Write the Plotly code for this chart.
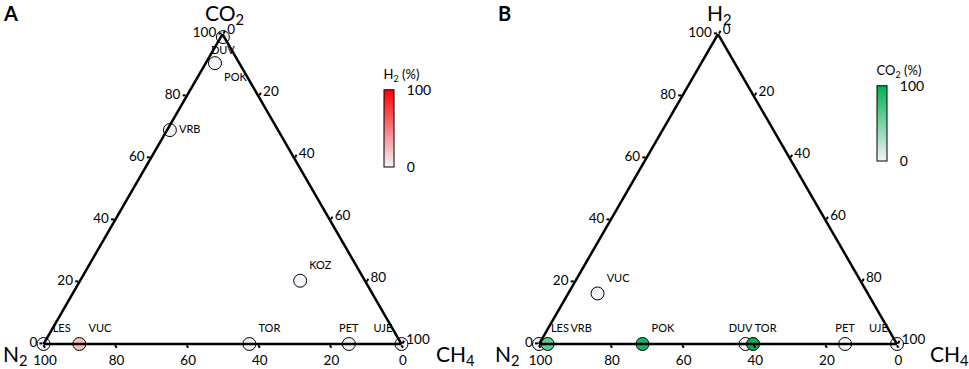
import plotly.graph_objects as go

# ---------------- Panel A: CO2 (top) - N2 (left) - CH4 (right), colour = H2 ----------------
sites_a = ["DUV", "POK", "VRB", "KOZ", "LES", "VUC", "TOR", "PET", "UJE"]
co2_a = [99.0, 90.6, 69.0, 20.4, 0.0, 0.0, 0.0, 0.0, 0.0]
n2_a = [0.4, 6.8, 30.2, 18.1, 100.0, 90.0, 42.5, 14.7, 0.0]
ch4_a = [0.6, 2.6, 0.8, 61.5, 0.0, 10.0, 57.5, 85.3, 100.0]
h2_a = [0, 0, 0, 0, 0, 22, 0, 0, 0]
labels_a = ["DUV", "POK", "VRB", "KOZ", "LES", "VUC", "TOR", "PET", "UJE"]
pos_a = ["bottom center", "bottom right", "middle right", "top right", "top right",
         "top right", "top right", "top center", "top left"]

# ---------------- Panel B: H2 (top) - N2 (left) - CH4 (right), colour = CO2 ----------------
sites_b = ["VUC", "LES", "VRB", "POK", "TOR", "DUV", "PET", "UJE"]
h2_b = [16.3, 0.0, 0.0, 0.0, 0.0, 0.0, 0.0, 0.0]
n2_b = [75.5, 100.0, 97.6, 71.1, 42.3, 40.2, 14.5, 0.0]
ch4_b = [8.2, 0.0, 2.4, 28.9, 57.7, 59.8, 85.5, 100.0]
co2_b = [0, 0, 62, 90.6, 0, 99, 0, 0]
NB = "\u00a0"
labels_b = ["VUC", NB + "LES", NB * 5 + "VRB", "POK", "TOR", "DUV" + NB * 9, "PET", "UJE"]
pos_b = ["top right", "top right", "top right", "top right", "top right",
         "top center", "top center", "top left"]

tick_vals = [0, 20, 40, 60, 80, 100]

FONT = "Lato"
W, H = 969, 369

fig = go.Figure()


def cbar(x, ytop, length, title):
    return dict(
        x=x / W, xanchor="left", xpad=0,
        y=1 - ytop / H, yanchor="top", ypad=0,
        len=length, lenmode="pixels", thickness=10,
        outlinewidth=1, outlinecolor="black",
        tickvals=[0, 100], ticks="outside", ticklen=10, tickcolor="rgba(0,0,0,0)",
        tickfont=dict(family=FONT, size=14, color="black"),
        title=dict(text=title, side="top",
                   font=dict(family=FONT, size=13, color="black")),
    )


fig.add_trace(go.Scatterternary(
    a=co2_a, b=n2_a, c=ch4_a, text=labels_a, mode="markers+text",
    textposition=pos_a, textfont=dict(family=FONT, size=11, color="black"),
    subplot="ternary", name="A",
    marker=dict(size=13, color=h2_a, cmin=0, cmax=100,
                colorscale=[[0, "#f4f4fa"], [1, "#ff0000"]],
                line=dict(color="black", width=1),
                colorbar=cbar(384, 67, 100, "H<sub>2</sub> (%)")),
    showlegend=False, cliponaxis=False,
))

fig.add_trace(go.Scatterternary(
    a=h2_b, b=n2_b, c=ch4_b, text=labels_b, mode="markers+text",
    textposition=pos_b, textfont=dict(family=FONT, size=11, color="black"),
    subplot="ternary2", name="B",
    marker=dict(size=13, color=co2_b, cmin=0, cmax=100,
                colorscale=[[0, "#f4f4fa"], [1, "#00b050"]],
                line=dict(color="black", width=1),
                colorbar=cbar(877, 63, 98, "CO<sub>2</sub> (%)")),
    showlegend=False, cliponaxis=False,
))


def axis():
    return dict(title=dict(text=""), tickvals=tick_vals, ticks="outside", ticklen=3,
                tickwidth=1.5, tickcolor="black", linewidth=2.5, linecolor="black",
                showgrid=False, tickfont=dict(family=FONT, size=13.5, color="black"),
                min=0)


y_dom = [(H - 344) / H, (H - 34) / H]


def title(text, x, y, size=21):
    return dict(text=text, x=x / W, y=1 - y / H, xref="paper", yref="paper",
                xanchor="center", yanchor="middle", showarrow=False,
                font=dict(family=FONT, size=size, color="black"))


fig.update_layout(
    width=W, height=H, margin=dict(l=0, r=0, t=0, b=0),
    paper_bgcolor="white", plot_bgcolor="white",
    font=dict(family=FONT, color="black"),
    ternary=dict(sum=100, bgcolor="white",
                 domain=dict(x=[22.5 / W, 422.5 / W], y=y_dom),
                 aaxis=axis(), baxis=axis(), caxis=axis()),
    ternary2=dict(sum=100, bgcolor="white",
                  domain=dict(x=[518 / W, 918 / W], y=y_dom),
                  aaxis=axis(), baxis=axis(), caxis=axis()),
    annotations=[
        title("<b>A</b>", 10, 13, 20),
        title("<b>B</b>", 504, 13, 20),
        title("CO<sub>2</sub>", 224, 14),
        title("H<sub>2</sub>", 719, 14),
        title("N<sub>2</sub>", 15, 355),
        title("CH<sub>4</sub>", 455, 355),
        title("N<sub>2</sub>", 507, 355),
        title("CH<sub>4</sub>", 949, 355),
    ],
)

fig.write_html("out.html",
               config={"displayModeBar": False},
               post_script="document.body.style.margin='0';"
                           "document.body.style.overflow='hidden';")
